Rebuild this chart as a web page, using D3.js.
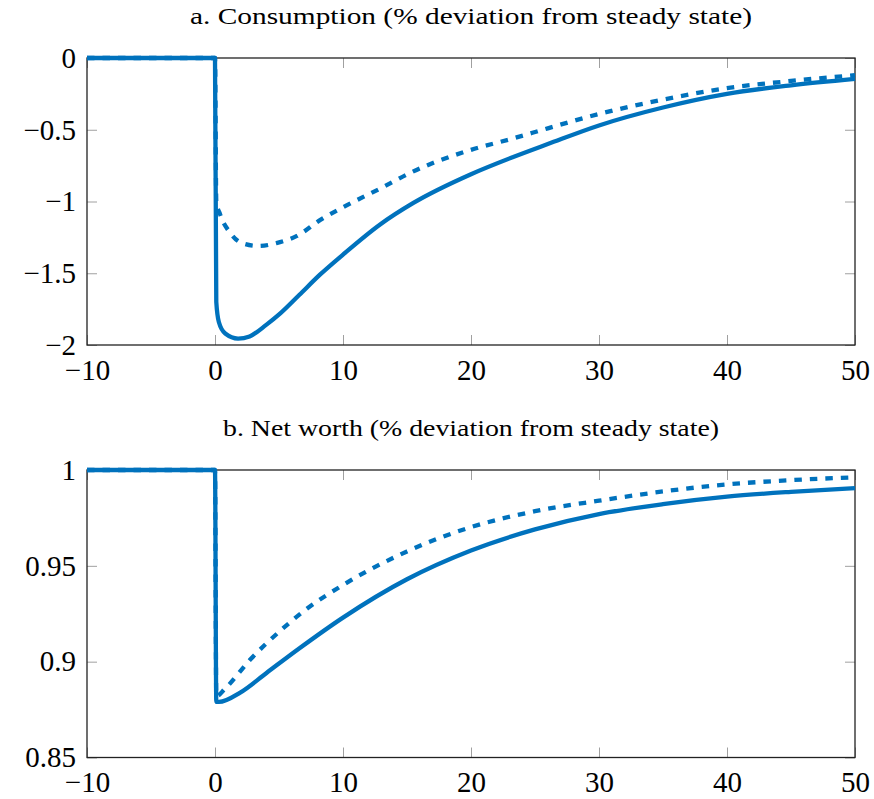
<!DOCTYPE html>
<html>
<head>
<meta charset="utf-8">
<script src="https://cdn.jsdelivr.net/npm/d3@7"></script>
<style>
  body { margin: 0; background: #fff; }
  svg { display: block; }
  text { font-family: "Liberation Serif", "Times New Roman", serif; fill: #000; }
</style>
</head>
<body>
<svg></svg>
<script>
// x axis (quarters after shock)
const xTicks = [-10, 0, 10, 20, 30, 40, 50];
const xTickLabels = ["−10", "0", "10", "20", "30", "40", "50"];

// panel a: consumption
const consTicks = [0, -0.5, -1, -1.5, -2];
const consTickLabels = ["0", "−0.5", "−1", "−1.5", "−2"];
const consSolidT = [-10, 0, 0.1, 0.3, 0.8, 1.8, 2.7, 4.0, 5.1, 6.6, 8.2, 10, 12.9, 15.5, 20, 23.3, 26, 30, 35, 40, 45, 50];
const consSolidV = [0, 0, -1.70, -1.84, -1.92, -1.955, -1.94, -1.86, -1.78, -1.65, -1.51, -1.37, -1.16, -1.01, -0.81, -0.69, -0.60, -0.47, -0.345, -0.25, -0.19, -0.145];
const consDashT = [-10, 0, 0.1, 0.4, 1.2, 2.1, 3.4, 4.8, 6.4, 8.2, 10, 12.9, 15.5, 20, 23.3, 26, 30, 35, 40, 45, 50];
const consDashV = [0, 0, -1.0, -1.09, -1.22, -1.29, -1.31, -1.29, -1.24, -1.13, -1.04, -0.91, -0.79, -0.64, -0.56, -0.49, -0.39, -0.29, -0.21, -0.16, -0.12];

// panel b: net worth
const nwTicks = [1, 0.95, 0.9, 0.85];
const nwTickLabels = ["1", "0.95", "0.9", "0.85"];
const nwSolidT = [-10, 0, 0.1, 0.3, 2.0, 4.0, 6.6, 10, 15, 20, 25, 30, 35, 40, 45, 50];
const nwSolidV = [1, 1, 0.879, 0.879, 0.884, 0.894, 0.907, 0.923, 0.943, 0.958, 0.969, 0.977, 0.9822, 0.9861, 0.9886, 0.9905];
const nwDashT = [-10, 0, 0.1, 0.8, 2.7, 5.3, 7.2, 10, 15, 20, 25, 30, 35, 40, 45, 50];
const nwDashV = [1, 1, 0.882, 0.886, 0.9007, 0.9173, 0.9277, 0.940, 0.9575, 0.9702, 0.9785, 0.984, 0.9888, 0.9925, 0.9947, 0.9962];

const svg = d3.select("svg").attr("width", 874).attr("height", 799);

const left = 87, right = 855;
const x = d3.scaleLinear().domain([-10, 50]).range([left, right]);
const blue = "#0072bd";

function drawPanel(top, bottom, yDomain, yTicks, yLabels, title, titleLen, series) {
    const y = d3.scaleLinear().domain(yDomain).range([bottom, top]);
    const g = svg.append("g");

    // tick marks on all four sides, pointing inward
    const axes = [
        [d3.axisBottom(x).tickValues(xTicks).tickFormat((d, i) => xTickLabels[i]).tickPadding(14), bottom, 0],
        [d3.axisTop(x).tickValues(xTicks).tickFormat(""), top, 0],
        [d3.axisLeft(y).tickValues(yTicks).tickFormat((d, i) => yLabels[i]).tickPadding(11), 0, left],
        [d3.axisRight(y).tickValues(yTicks).tickFormat(""), 0, right]
    ];
    axes.forEach(function(a) {
        const ax = g.append("g")
            .attr("transform", "translate(" + a[2] + "," + a[1] + ")")
            .call(a[0].tickSizeInner(-10).tickSizeOuter(0));
        ax.select(".domain").remove();
        ax.selectAll(".tick line").attr("stroke", "#a0a0a0").attr("stroke-width", 1);
        ax.selectAll(".tick text")
            .attr("font-family", "Liberation Serif")
            .attr("font-size", 29)
            .attr("fill", "#000");
    });

    // frame
    g.append("rect")
        .attr("x", left).attr("y", top)
        .attr("width", right - left).attr("height", bottom - top)
        .attr("fill", "none")
        .attr("stroke", "#222")
        .attr("stroke-width", 1.3);

    // title
    g.append("text")
        .attr("x", (left + right) / 2)
        .attr("y", top - 34)
        .attr("text-anchor", "middle")
        .attr("font-size", 24)
        .attr("textLength", titleLen)
        .attr("lengthAdjust", "spacingAndGlyphs")
        .text(title);

    const line = d3.line()
        .x(d => x(d[0]))
        .y(d => y(d[1]))
        .curve(d3.curveMonotoneX);

    series.forEach(function(s) {
        g.append("path")
            .datum(d3.zip(s.t, s.v))
            .attr("d", line)
            .attr("fill", "none")
            .attr("stroke", blue)
            .attr("stroke-width", 4.3)
            .attr("stroke-linejoin", "round")
            .attr("stroke-dasharray", s.dash ? "7.5,8" : null);
    });
}

drawPanel(58, 345, [-2, 0], consTicks, consTickLabels,
    "a. Consumption (% deviation from steady state)", 562,
    [{t: consDashT, v: consDashV, dash: true}, {t: consSolidT, v: consSolidV, dash: false}]);

drawPanel(470, 757.5, [0.85, 1], nwTicks, nwTickLabels,
    "b. Net worth (% deviation from steady state)", 496,
    [{t: nwDashT, v: nwDashV, dash: true}, {t: nwSolidT, v: nwSolidV, dash: false}]);
</script>
</body>
</html>
